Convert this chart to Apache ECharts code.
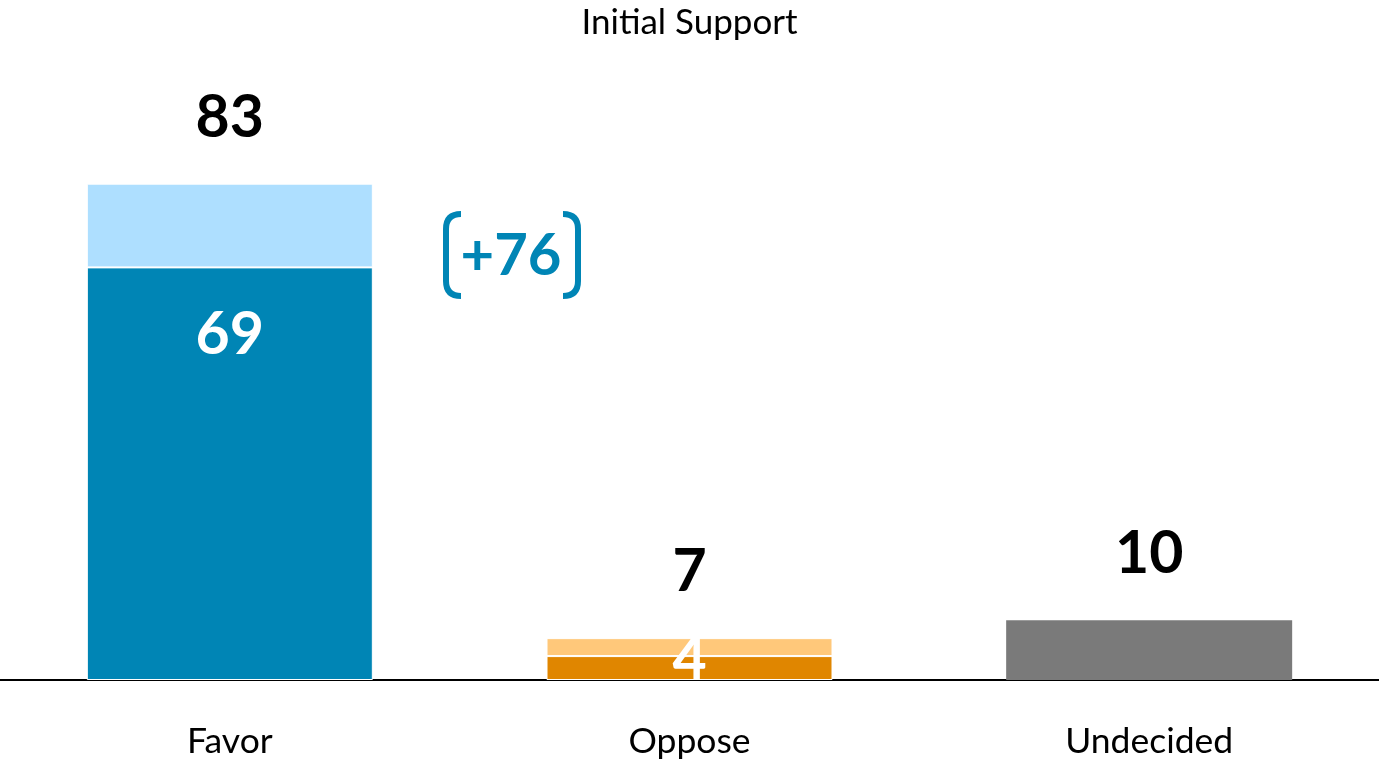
<!DOCTYPE html>
<html>
<head>
<meta charset="utf-8">
<script src="https://cdn.jsdelivr.net/npm/echarts@6/dist/echarts.min.js"></script>
<style>html,body{margin:0;padding:0;background:#fff;}#c{width:1379px;height:760px;}</style>
</head>
<body>
<div id="c"></div>
<script>
const categories = ['Favor', 'Oppose', 'Undecided'];
const strongValues = [69, 4, 10];
const softValues = [14, 3, 0];
const totals = [83, 7, 10];
const strongColors = ['#0085B5', '#E08600', '#7A7A7A'];
const softColors = ['#AEDFFF', '#FFC87A', '#7A7A7A'];
const marginText = '+76';

const FONT = 'Lato, "Open Sans", sans-serif';
const BLUE = '#0085B5';
const chart = echarts.init(document.getElementById('c'));

const strongData = strongValues.map((v, i) => ({
  value: v,
  itemStyle: { color: strongColors[i], borderWidth: softValues[i] > 0 ? 1 : 0 },
  label: {
    show: i < 2,
    position: ['50%', i === 0 ? 68 : 4]
  }
}));
const softData = softValues.map((v, i) => ({
  value: v,
  itemStyle: { color: softColors[i], borderWidth: v > 0 ? 1 : 0 }
}));

function bracket(xv, xh) {
  const t = 214, b = 296, r = 15;
  const st = { stroke: BLUE, lineWidth: 6, fill: null };
  return [
    { type: 'line', z: 10, shape: { x1: xv, y1: t + r, x2: xv, y2: b - r }, style: st },
    { type: 'bezierCurve', z: 10, shape: { x1: xv, y1: t + r, cpx1: xv, cpy1: t, x2: xh, y2: t }, style: st },
    { type: 'bezierCurve', z: 10, shape: { x1: xv, y1: b - r, cpx1: xv, cpy1: b, x2: xh, y2: b }, style: st }
  ];
}

chart.setOption({
  animation: false,
  title: {
    text: 'Initial Support',
    left: 'center',
    top: 0,
    textStyle: { fontFamily: FONT, fontSize: 35, fontWeight: 'normal', color: '#000' }
  },
  grid: { left: 0, right: 0, top: 82, bottom: 80 },
  xAxis: {
    type: 'category',
    data: categories,
    axisLine: { lineStyle: { color: '#000', width: 2 } },
    axisTick: { show: false },
    axisLabel: { fontFamily: FONT, fontSize: 35.5, color: '#000', margin: 44 }
  },
  yAxis: { type: 'value', min: 0, max: 100, show: false, splitLine: { show: false } },
  series: [
    {
      type: 'bar', stack: 's', barWidth: 286, data: strongData,
      itemStyle: { borderColor: '#fff' },
      label: {
        align: 'center', verticalAlign: 'middle',
        fontFamily: FONT, fontSize: 59, fontWeight: 'bold', color: '#fff',
        formatter: p => p.value
      }
    },
    {
      type: 'bar', stack: 's', barWidth: 286, data: softData,
      itemStyle: { borderColor: '#fff' },
      label: {
        show: true, position: ['50%', -66],
        align: 'center', verticalAlign: 'middle',
        fontFamily: FONT, fontSize: 59, fontWeight: 'bold', color: '#000',
        formatter: p => totals[p.dataIndex]
      }
    }
  ],
  graphic: [
    {
      type: 'text', x: 511, y: 256, z: 10,
      style: { text: marginText, fontFamily: FONT, fontSize: 58, fontWeight: 'bold', fill: BLUE, align: 'center', verticalAlign: 'middle' }
    }
  ].concat(bracket(446, 461), bracket(578, 563))
});
</script>
</body>
</html>
